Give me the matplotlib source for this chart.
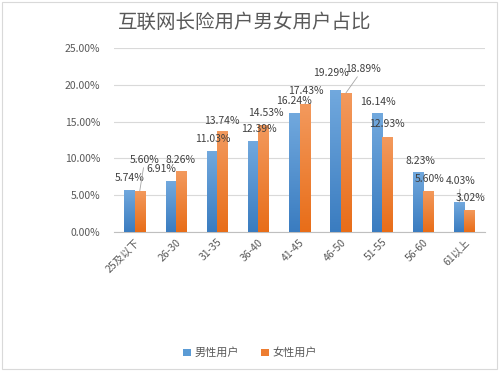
import numpy as np
import matplotlib
matplotlib.use('Agg')
import matplotlib.pyplot as plt
from matplotlib.colors import LinearSegmentedColormap
from matplotlib.patches import Patch, Rectangle
from matplotlib.ticker import FuncFormatter

plt.rcParams['font.family'] = ['Noto Sans CJK SC', 'DejaVu Sans']

categories = ['25及以下', '26-30', '31-35', '36-40', '41-45', '46-50', '51-55', '56-60', '61以上']
male = [5.74, 6.91, 11.03, 12.39, 16.24, 19.29, 16.14, 8.23, 4.03]
female = [5.60, 8.26, 13.74, 14.53, 17.43, 18.89, 12.93, 5.60, 3.02]
series_names = ['男性用户', '女性用户']
title = '互联网长险用户男女用户占比'

# label offsets from bar top (pixels), and whether a leader line is drawn
male_off = [(0, 12), (-9, 12), (1, 12), (6, 12), (0, 12), (-5, 17), (1, 11), (2, 11), (1, 21)]
female_off = [(5, 31), (0, 11), (0, 10), (2, 12), (1, 13), (17, 24), (0, 13), (1, 12), (1, 12)]
male_lead = [False] * 8 + [True]
female_lead = [True, False, False, False, False, True, False, False, False]

fig = plt.figure(figsize=(5, 3.75), dpi=100)
ax = fig.add_axes([0.228, 0.381, 0.742, 0.491])

x = np.arange(len(categories))
w = 0.25
bars_m = ax.bar(x - w / 2, male, w, zorder=3)
bars_f = ax.bar(x + w / 2, female, w, zorder=3)


def grad_bars(bars, c_bot, c_top):
    cmap = LinearSegmentedColormap.from_list('g', [c_bot, c_top])
    grad = np.linspace(0, 1, 256).reshape(-1, 1)
    for b in bars:
        bx, by = b.get_xy()
        bw, bh = b.get_width(), b.get_height()
        b.set_facecolor('none')
        b.set_edgecolor('none')
        im = ax.imshow(grad, extent=[bx, bx + bw, by, by + bh], origin='lower',
                       cmap=cmap, aspect='auto', zorder=3, interpolation='bilinear')
        im.set_clip_path(b)


grad_bars(bars_m, '#3a7cc0', '#72a9de')
grad_bars(bars_f, '#e86d18', '#f39a5e')

ax.set_xlim(-0.5, len(categories) - 0.5)
ax.set_ylim(0, 25)
ax.set_yticks(np.arange(0, 26, 5))
ax.yaxis.set_major_formatter(FuncFormatter(lambda v, p: '%.2f%%' % v))
ax.grid(axis='y', color='#d9d9d9', linewidth=0.8, zorder=0)
for s in ['top', 'right', 'left']:
    ax.spines[s].set_visible(False)
ax.spines['bottom'].set_color('#bfbfbf')
ax.tick_params(axis='both', length=0, labelsize=7.5, colors='#595959')
ax.tick_params(axis='y', pad=10)
ax.set_xticks(x)
ax.set_xticklabels(categories, rotation=45, ha='right', rotation_mode='anchor')

for xs, vals, offs, leads in [(x - w / 2, male, male_off, male_lead),
                              (x + w / 2, female, female_off, female_lead)]:
    for xi, v, (dx, dy), lead in zip(xs, vals, offs, leads):
        kw = {}
        if lead:
            kw['arrowprops'] = dict(arrowstyle='-', color='#a6a6a6', lw=0.6,
                                    shrinkA=0, shrinkB=0)
        ax.annotate('%.2f%%' % v, xy=(xi, v), xytext=(dx, dy),
                    textcoords='offset pixels', ha='center', va='center',
                    fontsize=7.5, color='#404040', zorder=5, **kw)

fig.text(0.49, 0.94, title, ha='center', va='center', fontsize=14, color='#595959')

handles = [Patch(facecolor='#5b9bd5'), Patch(facecolor='#ed7d31')]
fig.legend(handles, series_names, loc='center', bbox_to_anchor=(0.5, 0.059), ncol=2,
           frameon=False, fontsize=8, labelcolor='#595959', handlelength=0.7,
           handleheight=0.7, handletextpad=0.3, columnspacing=2.0)

fig.patches.append(Rectangle((0.004, 0.015), 0.99, 0.98, transform=fig.transFigure,
                             fill=False, edgecolor='#d9d9d9', linewidth=0.8))

fig.savefig('out.png', dpi=100)
